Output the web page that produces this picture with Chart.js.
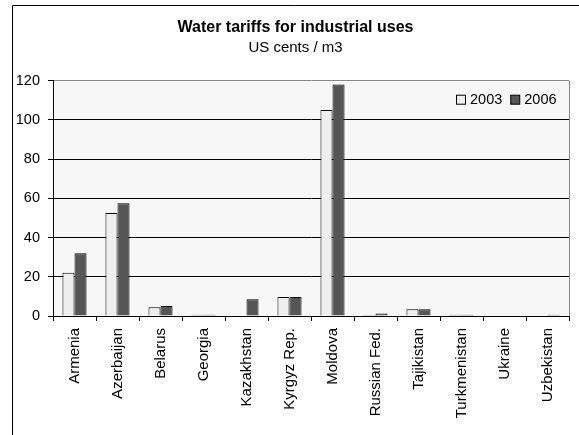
<!DOCTYPE html>
<html>
<head>
<meta charset="utf-8">
<script src="https://cdn.jsdelivr.net/npm/chart.js@4/dist/chart.umd.min.js"></script>
<style>
  html, body { margin: 0; padding: 0; background: #fff; }
  canvas { display: block; }
</style>
</head>
<body>
<canvas id="grafico" width="579" height="435"></canvas>
<script>
// datos
const paises = [
  'Armenia', 'Azerbaijan', 'Belarus', 'Georgia', 'Kazakhstan', 'Kyrgyz Rep.',
  'Moldova', 'Russian Fed.', 'Tajikistan', 'Turkmenistan', 'Ukraine', 'Uzbekistan'
];
const tarifa2003 = [22, 52.5, 4.5, 0.6, null, 9.7, 105, 0.5, 3.4, 0.6, null, null];
const tarifa2006 = [32, 57.5, 5.1, 0.6, 8.5, 9.7, 118, 1.3, 3.4, 0.6, null, 0.7];
const ticksY = [0, 20, 40, 60, 80, 100, 120];

const fuente = 'Arial, "Liberation Sans", sans-serif';

// fondo, marco exterior y borde del area
const marco = {
  id: 'marco',
  beforeDraw(chart) {
    const c = chart.ctx, a = chart.chartArea;
    c.save();
    c.fillStyle = '#fff';
    c.fillRect(0, 0, chart.width, chart.height);
    c.fillStyle = '#f7f7f7';
    c.fillRect(a.left, a.top, a.right - a.left, a.bottom - a.top);
    c.strokeStyle = '#000';
    c.lineWidth = 1;
    c.beginPath();
    c.moveTo(12.5, chart.height);
    c.lineTo(12.5, 5.5);
    c.lineTo(chart.width, 5.5);
    c.stroke();
    c.restore();
  },
  afterDatasetsDraw(chart) {
    const c = chart.ctx, a = chart.chartArea;
    c.save();
    c.strokeStyle = '#888';
    c.lineWidth = 1;
    c.beginPath();
    c.moveTo(Math.round(a.right) + 0.5, a.top);
    c.lineTo(Math.round(a.right) + 0.5, a.bottom);
    c.stroke();

    // leyenda arriba a la derecha
    c.font = '14.5px ' + fuente;
    c.textBaseline = 'middle';
    c.textAlign = 'left';
    let x = a.right - 113;
    const y = a.top + 19;
    chart.data.datasets.forEach(ds => {
      c.fillStyle = ds.backgroundColor;
      c.fillRect(x + 0.5, y - 4.5, 9, 9);
      c.strokeStyle = '#000';
      c.strokeRect(x + 0.5, y - 4.5, 9, 9);
      c.fillStyle = '#000';
      c.fillText(ds.label, x + 14, y + 0.5);
      x += 14 + c.measureText(ds.label).width + 8;
    });
    c.restore();
  }
};

const config = {
  type: 'bar',
  data: {
    labels: paises,
    datasets: [{
      label: '2003',
      data: tarifa2003,
      backgroundColor: '#eeeeee',
      borderColor: '#000',
      borderWidth: 1,
      borderSkipped: 'bottom'
    }, {
      label: '2006',
      data: tarifa2006,
      backgroundColor: '#565656',
      borderColor: '#000',
      borderWidth: 1,
      borderSkipped: 'bottom'
    }]
  },
  options: {
    responsive: false,
    animation: false,
    layout: { padding: { left: 12, right: 0, top: 0, bottom: 0 } },
    datasets: { bar: { barPercentage: 1, categoryPercentage: 0.56 } },
    plugins: {
      title: {
        display: true,
        text: 'Water tariffs for industrial uses',
        color: '#000',
        font: { family: fuente, size: 16, weight: 'bold', lineHeight: 1.2 },
        padding: { top: 18, bottom: 1.5 }
      },
      subtitle: {
        display: true,
        text: 'US cents / m3',
        color: '#000',
        font: { family: fuente, size: 15, lineHeight: 1.2 },
        padding: { top: 0, bottom: 24 }
      },
      legend: { display: false },
      tooltip: { enabled: false }
    },
    scales: {
      x: {
        grid: {
          offset: true,
          drawOnChartArea: false,
          tickLength: 5,
          tickColor: '#000'
        },
        border: { color: '#000' },
        ticks: {
          color: '#000',
          font: { family: fuente, size: 15 },
          minRotation: 90,
          maxRotation: 90,
          autoSkip: false,
          padding: 7
        },
        afterFit(s) { s.height = 119; }
      },
      y: {
        min: 0,
        max: 120,
        afterBuildTicks(s) { s.ticks = ticksY.map(v => ({ value: v })); },
        grid: {
          color: ctx => (ctx.tick && ctx.tick.value === 120) ? '#888' : '#000',
          tickLength: 5,
          tickColor: '#000'
        },
        border: { color: '#000' },
        ticks: {
          color: '#000',
          font: { family: fuente, size: 14.5 },
          padding: 8
        },
        afterFit(s) { s.width = 41; }
      },
      // eje vacio a la derecha, solo reserva el margen
      margen: {
        position: 'right',
        min: 0,
        max: 120,
        grid: { display: false },
        border: { display: false },
        ticks: { display: false },
        afterFit(s) { s.width = 10; }
      }
    }
  },
  plugins: [marco]
};

var grafico = new Chart(document.getElementById('grafico'), config);
</script>
</body>
</html>
